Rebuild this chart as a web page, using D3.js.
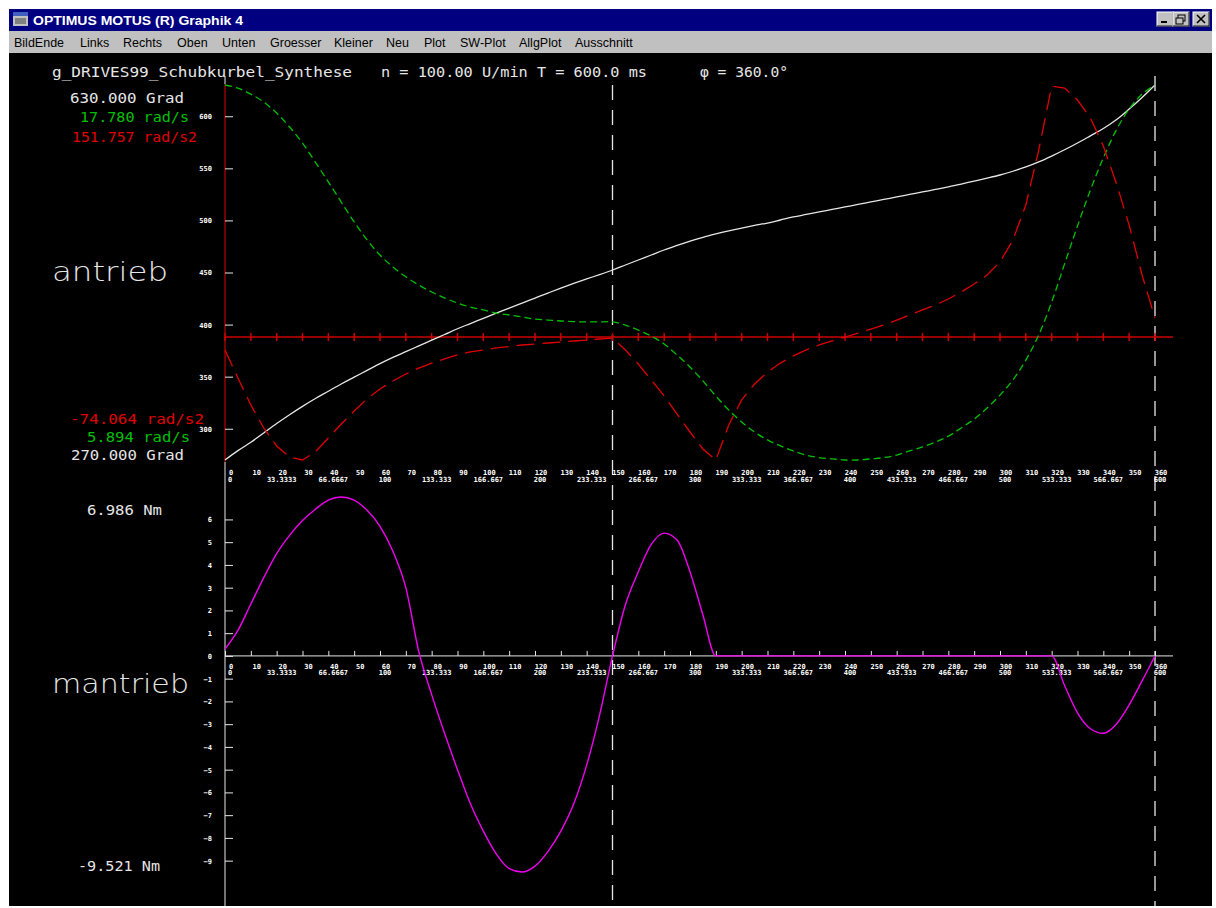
<!DOCTYPE html>
<html>
<head>
<meta charset="utf-8">
<script src="https://cdn.jsdelivr.net/npm/d3@7"></script>
<style>
body { margin: 0; background: #fff; }
</style>
</head>
<body>
<svg id="graphik"></svg>
<script>
// drive angle (deg), 5 degree steps, shared by all series
var degrees = [0,5,10,15,20,25,30,35,40,45,50,55,60,65,70,75,80,85,90,95,100,105,110,115,120,125,130,135,140,145,
               150,155,160,165,170,175,180,185,190,195,200,205,210,215,220,225,230,235,240,245,250,255,260,265,270,275,
               280,285,290,295,300,305,310,315,320,325,330,335,340,345,350,355,360];
// antrieb: angle [Grad]
var angleGrad = [270,279,287,296,305,313.5,321.5,329,336,343,349.5,356,362.5,368.5,374,379.5,385,390.5,396,401,406,411,415.9,420.7,425.5,430.3,435,439.5,443.8,448,
                 452.4,457.2,462,466.8,471.6,476,480.2,483.8,487,490,492.7,495.2,497.5,500.4,503.3,505.7,508.1,510.5,512.9,515.3,517.7,520.1,522.5,524.9,527.3,529.7,
                 532.1,534.9,537.8,540.6,543.6,547.2,551.3,556.2,561.8,567.8,574.3,581.2,588.2,596.6,606.9,618,630];
// antrieb: velocity [rad/s]
var velocity = [17.78,17.68,17.49,17.24,16.89,16.45,15.94,15.33,14.71,14.07,13.44,12.87,12.39,12.01,11.70,11.44,11.22,11.03,10.87,10.74,10.65,10.55,10.49,10.43,10.36,10.33,10.30,10.28,10.27,10.27,
                10.27,10.17,10.01,9.82,9.57,9.22,8.84,8.40,7.92,7.48,7.10,6.78,6.53,6.34,6.18,6.05,5.97,5.93,5.894,5.894,5.93,5.97,6.05,6.18,6.31,6.46,
                6.65,6.91,7.19,7.54,7.95,8.43,9.06,9.86,10.90,12.11,13.31,14.45,15.47,16.35,17.02,17.49,17.78];
// antrieb: acceleration [rad/s2]
var accel = [-7.8,-24.7,-40.9,-54.8,-65.6,-72.3,-74.064,-69.2,-60.8,-52.4,-44.6,-37.3,-31.3,-26.5,-22.3,-18.7,-15.7,-13.2,-10.8,-9.0,-7.8,-6.6,-5.7,-4.8,-4.2,-3.6,-3.0,-2.4,-1.8,-1.2,
             -0.6,-7.8,-16.3,-25.9,-35.5,-46.4,-57.2,-67.4,-74.064,-53,-37.9,-28.3,-21.1,-15.7,-11.4,-7.8,-4.8,-2.4,0,2.4,4.8,7.2,10.2,13.25,16.3,19.3,
             22.9,27.1,31.9,37.3,45.2,58.4,79.5,112.6,151.0,149.9,142.7,131.9,115.0,92.7,67.4,37.3,11.4];
// mantrieb: torque [Nm]
var torque = [0.3,1.12,2.28,3.44,4.5,5.3,5.95,6.45,6.85,6.986,6.85,6.4,5.7,4.6,3.0,0.2,-1.7,-3.4,-5.0,-6.5,-7.7,-8.7,-9.35,-9.5,-9.24,-8.6,-7.7,-6.5,-4.8,-2.6,
              0,2.25,3.7,4.9,5.4,5.1,3.7,1.8,0,0,0,0,0,0,0,0,0,0,0,0,0,0,0,0,0,0,
              0,0,0,0,0,0,0,0,0,-1.3,-2.5,-3.2,-3.4,-3.0,-2.15,-1.1,0];

var degTicks = [0,10,20,30,40,50,60,70,80,90,100,110,120,130,140,150,160,170,180,
                190,200,210,220,230,240,250,260,270,280,290,300,310,320,330,340,350,360];
var msTickDegrees = [0,20,40,60,80,100,120,140,160,180,200,220,240,260,280,300,320,340,360];
var msTickLabels = ["0","33.3333","66.6667","100","133.333","166.667","200","233.333","266.667","300",
                    "333.333","366.667","400","433.333","466.667","500","533.333","566.667","600"];
var gradTicks = [300,350,400,450,500,550,600];
var torqueTicks = [-9,-8,-7,-6,-5,-4,-3,-2,-1,0,1,2,3,4,5,6];
var cursorDegrees = [150, 360];
var cursorTop = [85, 76];
var menuItems = ["BildEnde","Links","Rechts","Oben","Unten","Groesser","Kleiner","Neu","Plot","SW-Plot","AllgPlot","Ausschnitt"];
var menuX = [14,80,123,177,222,270,334,386,424,460,519,575];

var w = 1216, h = 908;
var white = "#e6e6e6", red = "#e00000", green = "#00c000", magenta = "#f000f0";
var tickFont = "bold 7px 'DejaVu Sans Mono', monospace";
var labelFont = "'DejaVu Sans Mono', monospace";

var x = d3.scaleLinear().domain([0, 360]).range([225, 1155]);
var yGrad = d3.scaleLinear().domain([270, 630]).range([460, 85]);
var yVel = d3.scaleLinear().domain([5.894, 17.780]).range([460, 85]);
var yAcc = d3.scaleLinear().domain([-74.064, 151.757]).range([460, 85]);
var yTq = d3.scaleLinear().domain([-9.521, 6.986]).range([872.5, 497]);

function drawText(svgBase, coordinate, text, config) {
    var t = svgBase.append("text")
        .attr("x", coordinate.x)
        .attr("y", coordinate.y)
        .attr("fill", config.color)
        .style("font-family", config.font)
        .style("font-size", config.fontSize)
        .style("font-weight", config.fontWeight || "normal")
        .style("text-anchor", config.textAnchor || "start")
        .text(text);
    if (config.width) {
        t.attr("textLength", config.width).attr("lengthAdjust", "spacingAndGlyphs");
    }
    return t;
}

function drawWindow(svg) {
    svg.append("rect").attr("width", w).attr("height", h).attr("fill", "#fff");
    svg.append("rect").attr("x", 9).attr("y", 9).attr("width", 1203).attr("height", 897).attr("fill", "#000");
    // title bar
    svg.append("rect").attr("x", 9).attr("y", 9).attr("width", 1203).attr("height", 22).attr("fill", "#000080");
    svg.append("rect").attr("x", 13).attr("y", 12).attr("width", 15).attr("height", 14).attr("fill", "#c0c0c0");
    svg.append("rect").attr("x", 13).attr("y", 12).attr("width", 15).attr("height", 4).attr("fill", "#4060c0");
    svg.append("rect").attr("x", 15).attr("y", 18).attr("width", 11).attr("height", 6).attr("fill", "#808080");
    drawText(svg, {x: 33, y: 25}, "OPTIMUS MOTUS (R) Graphik 4", {
        color: "#fff", font: "'Liberation Sans', Arial, sans-serif", fontSize: "13px", fontWeight: "bold", width: 210
    });
    var btnX = [1157, 1173, 1193];
    btnX.forEach(function(bx) {
        svg.append("rect").attr("x", bx).attr("y", 12).attr("width", 16).attr("height", 14)
            .attr("fill", "#c0c0c0").attr("stroke", "#fff").attr("stroke-width", 1);
        svg.append("path").attr("d", "M" + (bx + 16) + ",12 V26 H" + bx).attr("stroke", "#000").attr("fill", "none");
    });
    svg.append("rect").attr("x", 1161).attr("y", 21).attr("width", 6).attr("height", 2).attr("fill", "#000");
    svg.append("rect").attr("x", 1178).attr("y", 15).attr("width", 7).attr("height", 6).attr("fill", "none").attr("stroke", "#000");
    svg.append("rect").attr("x", 1176).attr("y", 18).attr("width", 7).attr("height", 6).attr("fill", "#c0c0c0").attr("stroke", "#000");
    svg.append("path").attr("d", "M1197,15 L1205,23 M1205,15 L1197,23").attr("stroke", "#000").attr("stroke-width", 1.6);
    // menu bar
    svg.append("rect").attr("x", 9).attr("y", 31).attr("width", 1203).attr("height", 22).attr("fill", "#c0c0c0");
    menuItems.forEach(function(m, i) {
        drawText(svg, {x: menuX[i], y: 47}, m, {
            color: "#000", font: "'Liberation Sans', Arial, sans-serif", fontSize: "12.5px"
        });
    });
}

function drawHeader(svg) {
    var opts = {color: white, font: labelFont, fontSize: "14px"};
    drawText(svg, {x: 52, y: 77}, "g_DRIVES99_Schubkurbel_Synthese", Object.assign({width: 300}, opts));
    drawText(svg, {x: 381, y: 77}, "n = 100.00 U/min T = 600.0 ms", Object.assign({width: 266}, opts));
    drawText(svg, {x: 700, y: 77}, "\u03c6 = 360.0\u00b0", Object.assign({width: 88}, opts));
}

function drawFrame(svg) {
    // left vertical axes
    svg.append("line").attr("x1", x(0)).attr("x2", x(0)).attr("y1", 76).attr("y2", 84).attr("stroke", white);
    svg.append("line").attr("x1", x(0)).attr("x2", x(0)).attr("y1", yGrad(630) - 1).attr("y2", 462).attr("stroke", red);
    svg.append("line").attr("x1", x(0)).attr("x2", x(0)).attr("y1", 462).attr("y2", 906).attr("stroke", white);

    // cursor lines
    svg.selectAll(".cursor").data(cursorDegrees).enter().append("line")
        .attr("class", "cursor")
        .attr("x1", function(d) { return x(d); }).attr("x2", function(d) { return x(d); })
        .attr("y1", function(d, i) { return cursorTop[i]; }).attr("y2", 906)
        .attr("stroke", white).attr("stroke-width", 1.3).attr("stroke-dasharray", "15,10");

    // zero line of acceleration with red ticks
    var y0 = yAcc(0);
    svg.append("line").attr("x1", x(0)).attr("x2", x(360) + 18).attr("y1", y0).attr("y2", y0)
        .attr("stroke", "#cc0000").attr("stroke-width", 1.5);
    svg.selectAll(".rtick").data(degTicks).enter().append("line")
        .attr("class", "rtick")
        .attr("x1", function(d) { return x(d); }).attr("x2", function(d) { return x(d); })
        .attr("y1", y0 - 4).attr("y2", y0 + 4)
        .attr("stroke", "#cc0000").attr("stroke-width", 1.5);

    // top y axis (Grad)
    var gTop = svg.append("g").attr("transform", "translate(" + x(0) + ",0)")
        .call(d3.axisLeft(yGrad).tickValues(gradTicks).tickSize(-8).tickSizeOuter(0).tickPadding(13).tickFormat(d3.format("d")));
    gTop.select(".domain").remove();
    gTop.selectAll("line").attr("stroke", white);
    gTop.selectAll("text").attr("fill", "#fff").style("font", tickFont).attr("dy", "0.35em");

    // bottom y axis (Nm)
    var gBot = svg.append("g").attr("transform", "translate(" + x(0) + ",0)")
        .call(d3.axisLeft(yTq).tickValues(torqueTicks).tickSize(-8).tickSizeOuter(0).tickPadding(13).tickFormat(d3.format("d")));
    gBot.select(".domain").remove();
    gBot.selectAll("line").attr("stroke", white);
    gBot.selectAll("text").attr("fill", "#fff").style("font", tickFont).attr("dy", "0.35em");

    // bottom x axis at torque zero
    var gX = svg.append("g").attr("transform", "translate(0," + yTq(0) + ")")
        .call(d3.axisBottom(x).tickValues(degTicks).tickSize(-5).tickSizeOuter(0).tickFormat(""));
    gX.select(".domain").remove();
    gX.selectAll("line").attr("stroke", white);
    svg.append("line").attr("x1", x(0)).attr("x2", x(360) + 18).attr("y1", yTq(0)).attr("y2", yTq(0)).attr("stroke", white);

    drawXLabels(svg, 475, 481.5);
    drawXLabels(svg, yTq(0) + 13, yTq(0) + 19.5);
}

function drawXLabels(svg, yRow1, yRow2) {
    var g = svg.append("g");
    g.selectAll(".deg").data(degTicks).enter().append("text")
        .attr("x", function(d) { return x(d) + 6; }).attr("y", yRow1)
        .attr("fill", "#fff").style("font", tickFont).style("text-anchor", "middle")
        .text(function(d) { return d; });
    g.selectAll(".ms").data(msTickDegrees).enter().append("text")
        .attr("x", function(d) { return x(d) + 5; }).attr("y", yRow2)
        .attr("fill", "#fff").style("font", tickFont).style("text-anchor", "middle")
        .text(function(d, i) { return msTickLabels[i]; });
}

function drawCurves(svg) {
    function series(vals, yScale) {
        return degrees.map(function(d, i) { return [x(d), yScale(vals[i])]; });
    }
    var smooth = d3.line().curve(d3.curveCatmullRom.alpha(0.5));
    var mono = d3.line().curve(d3.curveMonotoneX);
    var straight = d3.line();
    svg.append("path").attr("d", smooth(series(angleGrad, yGrad)))
        .attr("fill", "none").attr("stroke", white).attr("stroke-width", 1.3);
    svg.append("path").attr("d", smooth(series(velocity, yVel)))
        .attr("fill", "none").attr("stroke", green).attr("stroke-width", 1.3).attr("stroke-dasharray", "7,4");
    svg.append("path").attr("d", straight(series(accel, yAcc)))
        .attr("fill", "none").attr("stroke", red).attr("stroke-width", 1.3).attr("stroke-dasharray", "18,8");
    svg.append("path").attr("d", mono(series(torque, yTq)))
        .attr("fill", "none").attr("stroke", magenta).attr("stroke-width", 1.4);
}

function drawLabels(svg) {
    var f = labelFont;
    drawText(svg, {x: 70, y: 103}, "630.000 Grad", {color: white, font: f, fontSize: "14px", width: 114});
    drawText(svg, {x: 80, y: 122}, "17.780 rad/s", {color: green, font: f, fontSize: "14px", width: 109});
    drawText(svg, {x: 72, y: 142}, "151.757 rad/s2", {color: red, font: f, fontSize: "14px", width: 125});
    drawText(svg, {x: 70, y: 424}, "-74.064 rad/s2", {color: red, font: f, fontSize: "14px", width: 134});
    drawText(svg, {x: 87, y: 442}, "5.894 rad/s", {color: green, font: f, fontSize: "14px", width: 103});
    drawText(svg, {x: 71, y: 460}, "270.000 Grad", {color: white, font: f, fontSize: "14px", width: 113});
    drawText(svg, {x: 87, y: 515}, "6.986 Nm", {color: white, font: f, fontSize: "14px", width: 75});
    drawText(svg, {x: 78, y: 871}, "-9.521 Nm", {color: white, font: f, fontSize: "14px", width: 82});
    drawText(svg, {x: 52, y: 281}, "antrieb", {color: white, font: "'DejaVu Sans', sans-serif", fontSize: "27px", fontWeight: 200, width: 116});
    drawText(svg, {x: 52, y: 693}, "mantrieb", {color: white, font: "'DejaVu Sans', sans-serif", fontSize: "27px", fontWeight: 200, width: 137});
}

var svg = d3.select("#graphik").attr("width", w).attr("height", h);
drawWindow(svg);
drawHeader(svg);
drawFrame(svg);
drawCurves(svg);
drawLabels(svg);
</script>
</body>
</html>
